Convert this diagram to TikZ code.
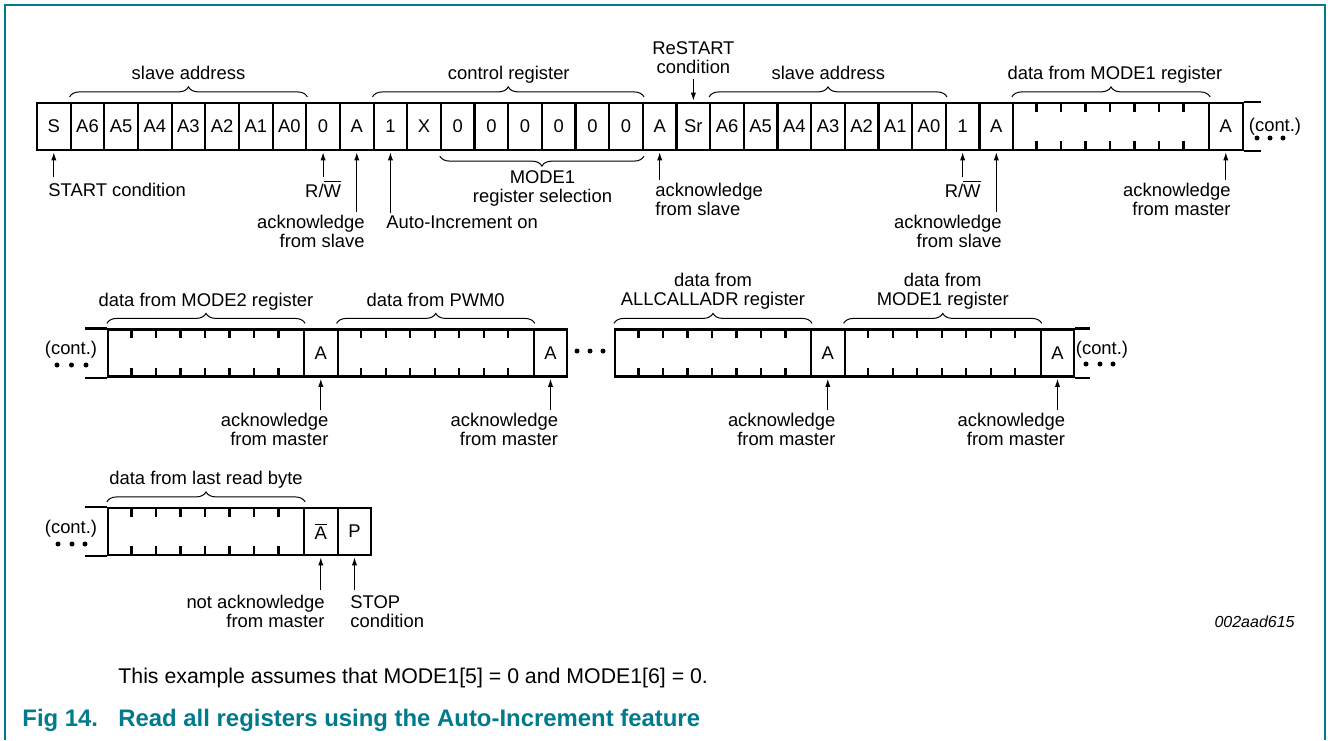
\documentclass[tikz,border=0pt]{standalone}
\usepackage{fontspec}
\setmainfont{Liberation Sans}
\usetikzlibrary{arrows.meta,decorations.pathreplacing}
\definecolor{figteal}{RGB}{0,122,140}

\begin{document}
\begin{tikzpicture}[x=0.5pt,y=-0.5pt,
lbl/.style={inner sep=0pt,font=\fontsize{9.2}{9.5}\selectfont},
bit/.style={draw,line width=1.1pt,minimum width=16.83pt,minimum height=23.5pt,inner sep=0pt,font=\fontsize{9.2}{9.5}\selectfont},
byte/.style={draw,line width=1.1pt,minimum width=98pt,minimum height=23.5pt,inner sep=0pt},
wire/.style={line width=1.1pt},
brc/.style={decorate,decoration={brace,amplitude=5pt,raise=2.5pt},line width=0.5pt},
arr/.style={-{Latex[length=4pt,width=2.6pt]},line width=0.5pt,shorten >=0.6pt,shorten <=1.5pt}]

\useasboundingbox (0,0) rectangle (1328,740);
\draw[figteal,line width=1pt] (5,740) -- (5,5) -- (1325,5) -- (1325,740);

\foreach \t [count=\i from 0] in {S,A6,A5,A4,A3,A2,A1,A0,0,A,1,X,0,0,0,0,0,0,A,Sr,A6,A5,A4,A3,A2,A1,A0,1,A}
{
\node[bit] (r\i) at ({37+33.66*\i+16.83},126.5) {\t};
}
\node[byte] (d1) at (1111,126.5) {};
\node[bit] (a1) at (1225.8,126.5) {A};
\draw[wire] (a1.north east) -- ++(17,0) (a1.south east) -- ++(17,0);

\node[byte] (d21) at (206,353) {};
\node[bit] (a21) at (320.8,353) {A};
\node[byte] (d22) at (435.7,353) {};
\node[bit] (a22) at (550.5,353) {A};
\node[byte] (d23) at (713,353) {};
\node[bit] (a23) at (827.8,353) {A};
\node[byte] (d24) at (942.7,353) {};
\node[bit] (a24) at (1057.5,353) {A};
\draw[wire] (d21.north west) -- ++(-22,0) (d21.south west) -- ++(-22,0);
\draw[wire] (a24.north east) -- ++(15,0) (a24.south east) -- ++(15,0);

\node[byte] (d31) at (206,531.5) {};
\node[bit] (na) at (320.8,531.5) {$\overline{\hbox{A}}$};
\node[bit] (p) at (354.5,531.5) {P};
\draw[wire] (d31.north west) -- ++(-22,0) (d31.south west) -- ++(-22,0);

\foreach \d in {d1,d21,d22,d23,d24,d31}
{
\foreach \k in {1,...,7}
{
\draw[wire] ([xshift=\k*12.25pt]\d.north west) -- ++(0,10);
\draw[wire] ([xshift=\k*12.25pt]\d.south west) -- ++(0,-10);
}
\draw[brc] (\d.north west) -- (\d.north east);
}

\draw[brc] (r1.north west) -- (r7.north east);
\draw[brc] (r10.north west) -- (r17.north east);
\draw[brc] (r20.north west) -- (r26.north east);
\draw[brc] (r17.south east) -- (r12.south west);

\foreach \x in {1257,1270,1283} \fill (\x,138) circle (2.5);
\foreach \x in {57,71.5,86} \fill (\x,365) circle (2.5);
\foreach \x in {577,590,603} \fill (\x,351) circle (2.5);
\foreach \x in {1086,1100,1113} \fill (\x,364) circle (2.5);
\foreach \x in {58,72,85} \fill (\x,544) circle (2.5);

\node[lbl,anchor=base] (sa1) at (188.5,79.6) {slave address};
\node[lbl,anchor=base] (cr) at (508.8,79.6) {control register};
\node[lbl,anchor=north,align=center] (rs) at (693.4,41.4) {ReSTART\\condition};
\node[lbl,anchor=base] (sa2) at (828.4,79.6) {slave address};
\node[lbl,anchor=base] (dm1) at (1115,79.6) {data from MODE1 register};
\node[lbl,anchor=base] (ct1) at (1275,131) {(cont.)};

\node[lbl,anchor=base west] (st) at (48,196.6) {START condition};
\node[lbl,anchor=base] (rw1) at (323.1,197) {R/$\overline{\hbox{W}}$};
\node[lbl,anchor=north east,align=right] (as1) at (365,215.2) {acknowledge\\from slave};
\node[lbl,anchor=base west] (ai) at (386,228.6) {Auto-Increment on};
\node[lbl,anchor=north,align=center] (ms) at (542.5,170.4) {MODE1\\register selection};
\node[lbl,anchor=north west,align=left] (as2) at (655,183.2) {acknowledge\\from slave};
\node[lbl,anchor=base] (rw2) at (962.7,197) {R/$\overline{\hbox{W}}$};
\node[lbl,anchor=north east,align=right] (as3) at (1002,215.2) {acknowledge\\from slave};
\node[lbl,anchor=north east,align=right] (am1) at (1231,183.2) {acknowledge\\from master};

\node[lbl,anchor=base] (l21) at (206,306.6) {data from MODE2 register};
\node[lbl,anchor=base] (l22) at (435.7,306.6) {data from PWM0};
\node[lbl,anchor=north,align=center] (l23) at (713,273.2) {data from\\ALLCALLADR register};
\node[lbl,anchor=north,align=center] (l24) at (942.7,273.2) {data from\\MODE1 register};
\node[lbl,anchor=base] (ct2) at (71,354) {(cont.)};
\node[lbl,anchor=base] (ct3) at (1102,354) {(cont.)};
\node[lbl,anchor=north east,align=right] (am21) at (328.8,413.2) {acknowledge\\from master};
\node[lbl,anchor=north east,align=right] (am22) at (558.5,413.2) {acknowledge\\from master};
\node[lbl,anchor=north east,align=right] (am23) at (835.8,413.2) {acknowledge\\from master};
\node[lbl,anchor=north east,align=right] (am24) at (1065.5,413.2) {acknowledge\\from master};

\node[lbl,anchor=base] (l31) at (206,484.6) {data from last read byte};
\node[lbl,anchor=base] (ct4) at (71,533.5) {(cont.)};
\node[lbl,anchor=north east,align=right] (nam) at (325,595.2) {not acknowledge\\from master};
\node[lbl,anchor=north west,align=left] (stop) at (350,595.4) {STOP\\condition};

\draw[arr,shorten <=3pt] (st.north -| r0) -- (r0.south);
\draw[arr] (rw1.north -| r8) -- (r8.south);
\draw[arr] (as1.north -| r9) -- (r9.south);
\draw[arr] (ai.north -| r10) -- (r10.south);
\draw[arr,shorten <=2.5pt] (rs.south -| r19) -- (r19.north);
\draw[arr] (as2.north -| r18) -- (r18.south);
\draw[arr] (rw2.north -| r27) -- (r27.south);
\draw[arr] (as3.north -| r28) -- (r28.south);
\draw[arr] (am1.north -| a1) -- (a1.south);
\draw[arr] (am21.north -| a21) -- (a21.south);
\draw[arr] (am22.north -| a22) -- (a22.south);
\draw[arr] (am23.north -| a23) -- (a23.south);
\draw[arr] (am24.north -| a24) -- (a24.south);
\draw[arr,shorten <=2.5pt] (nam.north -| na) -- (na.south);
\draw[arr,shorten <=2.5pt] (stop.north -| p) -- (p.south);

\node[inner sep=0pt,anchor=base east,font=\fontsize{8}{9}\selectfont\itshape] (fid) at (1295,627.7) {002aad615};
\node[inner sep=0pt,anchor=base west,font=\fontsize{10.65}{12}\selectfont] (note) at (118,683.6) {This example assumes that MODE1[5] = 0 and MODE1[6] = 0.};
\node[inner sep=0pt,anchor=base west,font=\fontsize{11.95}{14}\selectfont\bfseries,text=figteal] (fig) at (22,726.6) {Fig 14.};
\node[inner sep=0pt,anchor=base west,font=\fontsize{11.95}{14}\selectfont\bfseries,text=figteal] (title) at (118,726.6) {Read all registers using the Auto-Increment feature};
\end{tikzpicture}
\end{document}
